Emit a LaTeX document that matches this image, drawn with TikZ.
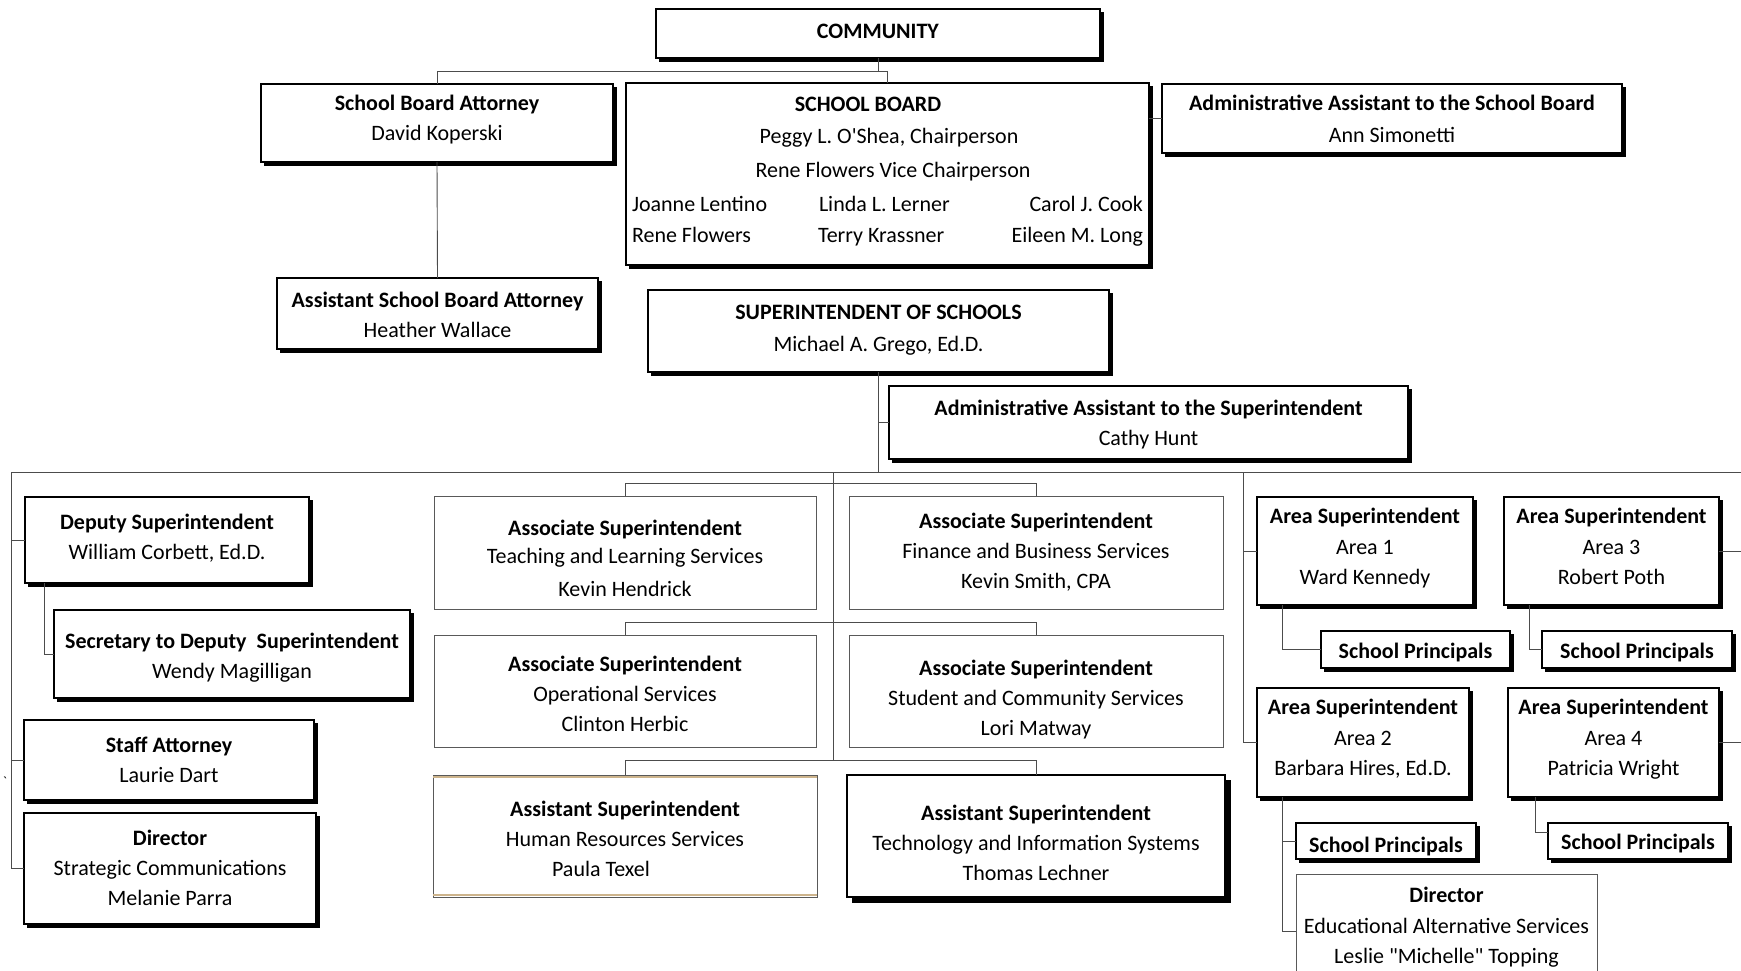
\documentclass[tikz,border=0pt]{standalone}
\usepackage{fontspec}
\setmainfont{Carlito}[Ligatures=TeXOff]
\usetikzlibrary{shadows,calc}
% \obox[text dy]{style}{name}{x1}{y1}{x2}{y2}{text}
\newcommand{\obox}[8][0]{%
  \node[#2, minimum width={(#6)-(#4)}, minimum height={(#7)-(#5)}] (#3) at ({((#4)+(#6))/2},{((#5)+(#7))/2}) {};
  \node[btxt] (#3-t) at ($(#3.center)+(0,#1)$) {#8};}
\tikzset{
  base/.style={inner sep=0pt, outer sep=0pt},
  btxt/.style={inner sep=0pt, outer sep=0pt, align=center, font=\fontsize{22}{30}\selectfont},
  sbox/.style={base, draw=black, line width=1.4pt, fill=white,
    copy shadow={shadow xshift=3.5pt, shadow yshift=-3.5pt, draw=black, fill=black, line width=1.4pt}},
  hbox/.style={base, draw=black, line width=1.2pt, fill=white,
    copy shadow={shadow xshift=5.5pt, shadow yshift=-5.5pt, draw=black, fill=black, line width=1.2pt}},
  pbox/.style={base, draw=black!65, line width=0.9pt, fill=white},
  conn/.style={draw=black!70, line width=0.9pt},
  txt/.style={inner sep=0pt, outer sep=0pt, font=\fontsize{22}{30}\selectfont},
  tanline/.style={draw={rgb,255:red,205;green,180;blue,140}, line width=1.6pt},
}
\begin{document}
\begin{tikzpicture}[x=1pt,y=-1pt]
\useasboundingbox (0,0) rectangle (1741,971);
\clip (0,0) rectangle (1741,971);

% junction coordinates
\coordinate (bus0) at (0,71);
\coordinate (busL) at (11,472);
\coordinate (busR) at (1741,472);
\coordinate (m0) at (833,472);
\coordinate (m1) at (833,760);
\coordinate (r0) at (1243,472);

\draw[conn] (busL) -- (busR);

% boxes
\obox[-2]{sbox}{comm}{656}{9}{1100}{58}{\textbf{COMMUNITY}}
\obox[-3]{sbox}{sba}{261}{84}{613}{162}{\textbf{School Board Attorney}\\David Koperski}
\obox[1]{sbox}{asba}{277}{278}{598}{349}{\textbf{Assistant School Board Attorney}\\Heather Wallace}
\obox{sbox}{sb}{626}{83}{1149}{265}{}
\obox{sbox}{aasb}{1162}{84}{1622}{153}{\textbf{Administrative Assistant to the School Board}\\[2pt]Ann Simonetti}
\obox[-1]{sbox}{supt}{648}{290}{1109}{372}{\textbf{SUPERINTENDENT OF SCHOOLS}\\[2pt]Michael A. Grego,\ Ed.D.}
\obox[2]{sbox}{aasupt}{889}{386}{1408}{459}{\textbf{Administrative Assistant to the Superintendent}\\Cathy Hunt}

\obox[-2]{sbox}{dep}{25}{497}{309}{583}{\textbf{Deputy Superintendent}\\William Corbett, Ed.D.}
\obox[4]{sbox}{sec}{54}{610}{410}{698}{\textbf{Secretary to Deputy\ \ Superintendent}\\Wendy Magilligan}
\obox{sbox}{staff}{24}{720}{314}{800}{\textbf{Staff Attorney}\\Laurie Dart}
\obox[-1]{sbox}{dirl}{24}{813}{316}{924}{\textbf{Director}\\Strategic Communications\\Melanie Parra}

\obox[6]{pbox}{teach}{434}{496}{816}{609}{\textbf{Associate Superintendent}\\[-2pt]Teaching and Learning Services\\[3pt]Kevin Hendrick}
\obox{pbox}{fin}{849}{496}{1223}{609}{\textbf{Associate Superintendent}\\Finance and Business Services\\Kevin Smith, CPA}
\obox[3]{pbox}{ops}{434}{635}{816}{747}{\textbf{Associate Superintendent}\\Operational Services\\Clinton Herbic}
\obox[9]{pbox}{stu}{849}{635}{1223}{747}{\textbf{Associate Superintendent}\\Student and Community Services\\Lori Matway}
\obox[3]{pbox}{hr}{433}{775}{817}{897}{\textbf{Assistant Superintendent}\\Human Resources Services\\Paula Texel\kern48pt}
\obox[7]{hbox}{tech}{847}{775}{1225}{897}{\textbf{Assistant Superintendent}\\Technology and Information Systems\\Thomas Lechner}

\obox[-3]{sbox}{a1}{1257}{497}{1473}{605}{\textbf{Area Superintendent}\\[1pt]Area 1\\Ward Kennedy}
\obox[-5]{sbox}{a3}{1504}{497}{1719}{605}{\textbf{Area Superintendent}\\[1pt]Area 3\\Robert Poth}
\obox[3]{sbox}{sp1}{1321}{631}{1510}{668}{\textbf{School Principals}}
\obox[3]{sbox}{sp3}{1542}{631}{1732}{668}{\textbf{School Principals}}
\obox[-4]{sbox}{a2}{1257}{688}{1469}{797}{\textbf{Area Superintendent}\\[1pt]Area 2\\Barbara Hires, Ed.D.}
\obox[-3]{sbox}{a4}{1508}{688}{1719}{797}{\textbf{Area Superintendent}\\[1pt]Area 4\\Patricia Wright}
\obox[6]{sbox}{sp2}{1296}{823}{1476}{859}{\textbf{School Principals}}
\obox[3]{sbox}{sp4}{1548}{823}{1728}{859}{\textbf{School Principals}}
\obox[2]{pbox}{dire}{1296}{874}{1597}{976}{\textbf{Director}\\[1pt]Educational Alternative Services\\Leslie "Michelle" Topping}

% HR box tan lines
\draw[tanline] ([yshift=-1.8pt]hr.north west) -- ([yshift=-1.8pt]hr.north east);
\draw[tanline] ([yshift=1.8pt]hr.south west) -- ([yshift=1.8pt]hr.south east);

% School board text
\node[txt] (sbt1) at (868,104) {\textbf{SCHOOL BOARD}};
\node[txt] (sbt2) at (889,138) {Peggy L. O'Shea, Chairperson};
\node[txt] (sbt3) at (893,172) {Rene Flowers Vice Chairperson};
\node[txt, anchor=mid west] (sbm1) at (632,209.5) {Joanne Lentino};
\node[txt, anchor=mid west] (sbm2) at (819,209.5) {Linda L. Lerner};
\node[txt, anchor=mid east] (sbm3) at (1143,209.5) {Carol J. Cook};
\node[txt, anchor=mid west] (sbm4) at (632,240.5) {Rene Flowers};
\node[txt, anchor=mid west] (sbm5) at (818,240.5) {Terry Krassner};
\node[txt, anchor=mid east] (sbm6) at (1143,240.5) {Eileen M. Long};
\node[txt, font=\fontsize{14}{14}\selectfont] (tick) at (5,782) {\textasciigrave};

% connectors
\draw[conn] (comm.south) -- (comm.south |- bus0);
\draw[conn] (sba.north) |- (bus0 -| sb.north) -- (sb.north);
\draw[conn] (sba.south) -- (asba.north);
\draw[conn] (aasb.west -| sb.east) -- (aasb.west);
\draw[conn] (supt.south) -- (supt.south |- busL);
\draw[conn] (supt.south |- aasupt.west) -- (aasupt.west);

\draw[conn] (busL) |- (dirl.west);
\draw[conn] (busL |- dep.west) -- (dep.west);
\draw[conn] (busL |- staff.west) -- (staff.west);
\draw[conn] ($(dep.south west)+(19,0)$) |- (sec.west);

\draw[conn] (m0) -- (m1);
\draw[conn] (teach.north) -- ++(0,-13) -| (fin.north);
\draw[conn] (ops.north) -- ++(0,-13) -| (stu.north);
\draw[conn] (hr.north) -- ++(0,-15) -| (tech.north);

\draw[conn] (r0) |- (a2.west);
\draw[conn] (r0 |- a1.west) -- (a1.west);
\draw[conn] (a3.east) -- (a3.east -| busR);
\draw[conn] (a4.east) -- (a4.east -| busR);
\draw[conn] ($(a1.south west)+(25,0)$) |- (sp1.west);
\draw[conn] ($(a3.south west)+(25,0)$) |- (sp3.west);
\draw[conn] ($(a2.south west)+(25,0)$) |- ($(dire.north west)+(0,57)$);
\draw[conn] ($(a2.south west)+(25,0)$) |- (sp2.west);
\draw[conn] ($(a4.south west)+(27,0)$) |- ($(sp4.north west)+(0,9)$);
\end{tikzpicture}
\end{document}
